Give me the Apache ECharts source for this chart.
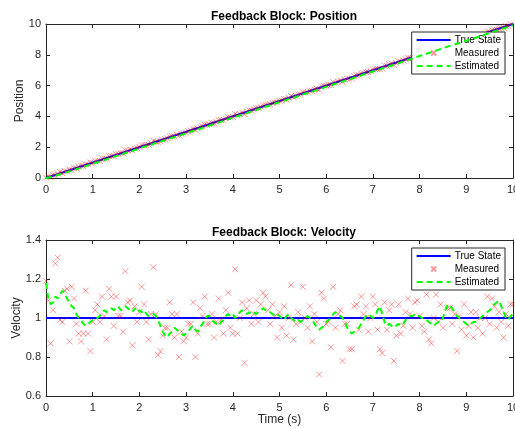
<!DOCTYPE html>
<html>
<head>
<meta charset="utf-8">
<script src="https://cdn.jsdelivr.net/npm/echarts@6/dist/echarts.min.js"></script>
<style>
  html, body { margin: 0; padding: 0; background: #ffffff; }
  #chart { width: 515px; height: 428px; }
</style>
</head>
<body>
<div id="chart"></div>
<script>
// Sample times (s), step 0.05
const time = [
  0, 0.05, 0.1, 0.15, 0.2, 0.25, 0.3, 0.35, 0.4, 0.45,
  0.5, 0.55, 0.6, 0.65, 0.7, 0.75, 0.8, 0.85, 0.9, 0.95,
  1, 1.05, 1.1, 1.15, 1.2, 1.25, 1.3, 1.35, 1.4, 1.45,
  1.5, 1.55, 1.6, 1.65, 1.7, 1.75, 1.8, 1.85, 1.9, 1.95,
  2, 2.05, 2.1, 2.15, 2.2, 2.25, 2.3, 2.35, 2.4, 2.45,
  2.5, 2.55, 2.6, 2.65, 2.7, 2.75, 2.8, 2.85, 2.9, 2.95,
  3, 3.05, 3.1, 3.15, 3.2, 3.25, 3.3, 3.35, 3.4, 3.45,
  3.5, 3.55, 3.6, 3.65, 3.7, 3.75, 3.8, 3.85, 3.9, 3.95,
  4, 4.05, 4.1, 4.15, 4.2, 4.25, 4.3, 4.35, 4.4, 4.45,
  4.5, 4.55, 4.6, 4.65, 4.7, 4.75, 4.8, 4.85, 4.9, 4.95,
  5, 5.05, 5.1, 5.15, 5.2, 5.25, 5.3, 5.35, 5.4, 5.45,
  5.5, 5.55, 5.6, 5.65, 5.7, 5.75, 5.8, 5.85, 5.9, 5.95,
  6, 6.05, 6.1, 6.15, 6.2, 6.25, 6.3, 6.35, 6.4, 6.45,
  6.5, 6.55, 6.6, 6.65, 6.7, 6.75, 6.8, 6.85, 6.9, 6.95,
  7, 7.05, 7.1, 7.15, 7.2, 7.25, 7.3, 7.35, 7.4, 7.45,
  7.5, 7.55, 7.6, 7.65, 7.7, 7.75, 7.8, 7.85, 7.9, 7.95,
  8, 8.05, 8.1, 8.15, 8.2, 8.25, 8.3, 8.35, 8.4, 8.45,
  8.5, 8.55, 8.6, 8.65, 8.7, 8.75, 8.8, 8.85, 8.9, 8.95,
  9, 9.05, 9.1, 9.15, 9.2, 9.25, 9.3, 9.35, 9.4, 9.45,
  9.5, 9.55, 9.6, 9.65, 9.7, 9.75, 9.8, 9.85, 9.9, 9.95,
  10
];

// True trajectory endpoints: constant velocity of 1
const trueTime = [0, 10];
const truePosition = [0, 10];
const trueVelocity = [1, 1];

// Noisy position measurements
const measuredPosition = [
  0.03, 0.11, 0.06, 0.22, 0.17, 0.29, 0.39, 0.31, 0.45, 0.43,
  0.55, 0.52, 0.66, 0.63, 0.74, 0.80, 0.76, 0.90, 0.88, 1.01,
  0.97, 1.09, 1.12, 1.10, 1.27, 1.26, 1.24, 1.41, 1.43, 1.43,
  1.55, 1.56, 1.62, 1.61, 1.80, 1.78, 1.84, 1.79, 1.92, 1.94,
  2.02, 2.12, 2.13, 2.14, 2.15, 2.26, 2.41, 2.36, 2.32, 2.38,
  2.46, 2.52, 2.58, 2.69, 2.71, 2.70, 2.81, 2.76, 2.86, 2.89,
  2.95, 3.03, 3.09, 3.19, 3.12, 3.22, 3.33, 3.36, 3.46, 3.44,
  3.49, 3.57, 3.55, 3.64, 3.75, 3.75, 3.76, 3.87, 3.96, 3.93,
  3.96, 4.16, 4.07, 4.15, 4.24, 4.15, 4.33, 4.39, 4.39, 4.46,
  4.54, 4.54, 4.63, 4.71, 4.75, 4.77, 4.79, 4.88, 4.90, 4.90,
  5.01, 5.03, 5.13, 5.11, 5.20, 5.33, 5.25, 5.34, 5.42, 5.44,
  5.57, 5.55, 5.58, 5.68, 5.64, 5.76, 5.79, 5.72, 5.96, 6.00,
  5.99, 6.04, 6.03, 6.22, 6.18, 6.26, 6.32, 6.25, 6.39, 6.43,
  6.42, 6.47, 6.63, 6.68, 6.67, 6.80, 6.81, 6.88, 6.87, 6.95,
  7.05, 7.08, 7.07, 7.07, 7.11, 7.29, 7.27, 7.37, 7.43, 7.35,
  7.45, 7.58, 7.56, 7.63, 7.71, 7.80, 7.81, 7.82, 7.94, 7.99,
  8.00, 8.03, 8.06, 8.21, 8.15, 8.18, 8.30, 8.41, 8.39, 8.48,
  8.47, 8.63, 8.62, 8.67, 8.69, 8.76, 8.72, 8.85, 8.87, 8.98,
  8.96, 9.03, 9.11, 9.10, 9.22, 9.22, 9.30, 9.31, 9.40, 9.50,
  9.48, 9.60, 9.63, 9.62, 9.71, 9.74, 9.75, 9.86, 9.88, 9.99,
  10.03
];

// Filter output: position estimate
const estimatedPosition = [
  0.00, 0.02, 0.06, 0.10, 0.14, 0.19, 0.24, 0.28, 0.33, 0.38,
  0.43, 0.48, 0.53, 0.57, 0.62, 0.67, 0.72, 0.77, 0.82, 0.87,
  0.92, 0.97, 1.02, 1.07, 1.12, 1.17, 1.21, 1.27, 1.32, 1.37,
  1.42, 1.47, 1.52, 1.56, 1.62, 1.67, 1.72, 1.76, 1.81, 1.86,
  1.91, 1.97, 2.02, 2.07, 2.11, 2.16, 2.22, 2.27, 2.31, 2.36,
  2.41, 2.45, 2.50, 2.56, 2.61, 2.65, 2.71, 2.75, 2.80, 2.85,
  2.90, 2.95, 3.00, 3.05, 3.10, 3.14, 3.20, 3.25, 3.31, 3.35,
  3.40, 3.45, 3.50, 3.55, 3.61, 3.66, 3.70, 3.76, 3.81, 3.86,
  3.91, 3.97, 4.01, 4.06, 4.12, 4.16, 4.21, 4.27, 4.32, 4.37,
  4.42, 4.47, 4.52, 4.57, 4.63, 4.68, 4.72, 4.77, 4.82, 4.87,
  4.92, 4.97, 5.02, 5.07, 5.12, 5.17, 5.21, 5.26, 5.32, 5.37,
  5.42, 5.47, 5.52, 5.57, 5.61, 5.66, 5.72, 5.76, 5.81, 5.87,
  5.92, 5.96, 6.01, 6.07, 6.12, 6.17, 6.22, 6.27, 6.31, 6.36,
  6.41, 6.45, 6.51, 6.56, 6.61, 6.66, 6.72, 6.77, 6.82, 6.87,
  6.92, 6.97, 7.02, 7.06, 7.11, 7.17, 7.21, 7.26, 7.31, 7.36,
  7.41, 7.46, 7.51, 7.56, 7.61, 7.66, 7.71, 7.76, 7.82, 7.87,
  7.92, 7.97, 8.01, 8.07, 8.12, 8.16, 8.21, 8.27, 8.32, 8.37,
  8.42, 8.48, 8.53, 8.58, 8.62, 8.67, 8.72, 8.77, 8.82, 8.87,
  8.92, 8.96, 9.01, 9.06, 9.11, 9.16, 9.21, 9.26, 9.31, 9.37,
  9.42, 9.47, 9.52, 9.57, 9.62, 9.67, 9.72, 9.76, 9.81, 9.87,
  9.92
];

// Noisy velocity measurements
const measuredVelocity = [
  1.19, 1.09, 0.87, 1.04, 1.28, 1.31, 0.99, 0.98, 1.14, 1.15,
  0.88, 1.16, 1.10, 0.97, 0.92, 0.88, 0.92, 1.14, 0.92, 0.83,
  0.98, 1.04, 1.07, 0.98, 1.11, 1.01, 0.89, 1.15, 1.11, 0.96,
  1.11, 1.01, 1.01, 0.93, 1.24, 1.08, 1.09, 0.86, 1.06, 0.98,
  1.03, 1.16, 1.07, 0.98, 0.89, 1.02, 1.26, 1.02, 0.81, 0.83,
  0.91, 0.95, 0.95, 1.08, 1.02, 0.90, 1.02, 0.80, 0.93, 0.88,
  0.90, 0.97, 0.97, 1.08, 0.80, 0.92, 1.05, 1.01, 1.11, 0.97,
  0.97, 1.02, 0.90, 0.98, 1.10, 0.99, 0.92, 1.04, 1.13, 0.95,
  0.92, 1.25, 0.92, 1.00, 1.08, 0.77, 1.05, 1.09, 0.97, 1.02,
  1.09, 0.98, 1.07, 1.13, 1.11, 1.04, 0.97, 1.07, 1.01, 0.90,
  1.03, 0.95, 1.06, 0.91, 1.00, 1.17, 0.89, 0.97, 1.03, 0.98,
  1.16, 1.00, 0.95, 1.06, 0.88, 1.02, 0.98, 0.71, 1.13, 1.10,
  0.97, 0.98, 0.85, 1.16, 0.95, 1.02, 1.04, 0.78, 0.97, 0.97,
  0.84, 0.84, 1.06, 1.07, 0.94, 1.11, 1.02, 1.06, 0.93, 1.00,
  1.11, 1.07, 0.94, 0.84, 0.82, 1.08, 0.94, 1.04, 1.07, 0.78,
  0.91, 1.07, 0.92, 0.96, 1.03, 1.10, 1.02, 0.95, 1.08, 1.09,
  1.01, 0.96, 0.93, 1.12, 0.89, 0.87, 1.00, 1.12, 0.98, 1.07,
  0.95, 1.17, 1.05, 1.05, 0.97, 1.02, 0.83, 1.01, 0.94, 1.07,
  0.91, 0.96, 1.03, 0.90, 1.03, 0.95, 1.00, 0.92, 1.00, 1.11,
  0.97, 1.10, 1.06, 0.95, 1.03, 0.98, 0.90, 1.02, 0.96, 1.07,
  1.07
];

// Filter output: velocity estimate
const estimatedVelocity = [
  1.18, 1.10, 1.07, 1.08, 1.11, 1.10, 1.12, 1.14, 1.13, 1.10,
  1.08, 1.06, 1.05, 1.02, 1.00, 0.99, 0.97, 0.96, 0.97, 0.98,
  0.99, 0.99, 1.00, 1.01, 1.03, 1.04, 1.03, 1.04, 1.05, 1.04,
  1.05, 1.06, 1.04, 1.05, 1.06, 1.05, 1.04, 1.03, 1.05, 1.03,
  1.04, 1.03, 1.04, 1.02, 1.01, 1.02, 1.02, 1.01, 0.99, 0.96,
  0.93, 0.91, 0.90, 0.92, 0.93, 0.95, 0.94, 0.93, 0.92, 0.91,
  0.92, 0.93, 0.95, 0.96, 0.94, 0.93, 0.95, 0.97, 0.99, 1.01,
  1.01, 0.99, 0.98, 0.97, 0.96, 0.98, 0.99, 1.01, 1.02, 1.01,
  1.02, 1.00, 1.01, 1.03, 1.04, 1.03, 1.02, 1.03, 1.02, 1.03,
  1.02, 1.03, 1.04, 1.05, 1.04, 1.04, 1.03, 1.02, 1.01, 1.02,
  1.01, 1.00, 0.99, 1.01, 1.02, 1.00, 0.99, 0.98, 0.99, 0.98,
  0.99, 1.00, 1.01, 1.00, 0.99, 0.97, 0.95, 0.94, 0.95, 0.96,
  0.98, 0.99, 1.00, 1.02, 1.03, 1.02, 1.01, 1.00, 0.98, 0.95,
  0.93, 0.92, 0.93, 0.94, 0.95, 0.97, 0.99, 1.01, 1.02, 1.01,
  1.00, 1.01, 1.04, 1.06, 1.02, 0.98, 0.96, 0.97, 0.96, 0.95,
  0.96, 0.97, 0.96, 0.97, 0.99, 1.00, 1.01, 1.01, 1.02, 1.01,
  1.01, 1.00, 1.00, 0.99, 0.98, 0.97, 0.96, 0.97, 0.98, 0.98,
  1.00, 1.04, 1.07, 1.06, 1.05, 1.03, 1.01, 1.00, 0.99, 0.98,
  0.97, 0.96, 0.97, 0.98, 0.98, 0.99, 1.00, 1.01, 1.02, 1.03,
  1.04, 1.05, 1.07, 1.08, 1.09, 1.06, 1.03, 1.00, 0.99, 1.01,
  1.02
];

// Axis ticks
const timeTicks = { min: 0, max: 10, step: 1 };
const positionTicks = { min: 0, max: 10, step: 2 };
const velocityTicks = { min: 0.6, max: 1.4, step: 0.2 };

const legendNames = ['True State', 'Measured', 'Estimated'];

const pairs = (xs, ys) => xs.map((x, i) => [x, ys[i]]);

const FONT = 'Liberation Sans, Arial, Helvetica, sans-serif';
const AXIS_COLOR = '#262626';
const BLUE = '#0000ff';
const GREEN = '#00ff00';
const RED = 'rgba(255, 0, 0, 0.5)';
const CROSS = 'path://M0 0L10 10M10 0L0 10';
// same cross with empty margin so the legend draws it small
const CROSS_LEGEND = 'path://M-5 -5M15 15M0 0L10 10M10 0L0 10';

function boxAxis(kind, gridIndex, ticks, position, labelled, extra) {
  const axis = {
    type: 'value',
    gridIndex: gridIndex,
    position: position,
    min: ticks.min,
    max: ticks.max,
    interval: ticks.step,
    axisLine: { show: true, onZero: false, lineStyle: { color: AXIS_COLOR, width: 1 } },
    axisTick: { show: true, inside: true, length: 4, lineStyle: { color: AXIS_COLOR } },
    splitLine: { show: false },
    axisLabel: {
      show: labelled,
      color: AXIS_COLOR,
      fontFamily: FONT,
      fontSize: 11,
      margin: kind === 'x' ? 6 : 5,
      showMinLabel: true,
      showMaxLabel: true
    }
  };
  return Object.assign(axis, extra || {});
}

const axisNameStyle = { color: AXIS_COLOR, fontFamily: FONT, fontSize: 12 };

const xAxes = [
  boxAxis('x', 0, timeTicks, 'bottom', true),
  boxAxis('x', 0, timeTicks, 'top', false),
  boxAxis('x', 1, timeTicks, 'bottom', true, {
    name: 'Time (s)', nameLocation: 'middle', nameGap: 18, nameMoveOverlap: false,
    nameTextStyle: axisNameStyle
  }),
  boxAxis('x', 1, timeTicks, 'top', false)
];

const yAxes = [
  boxAxis('y', 0, positionTicks, 'left', true, {
    name: 'Position', nameLocation: 'middle', nameGap: 20, nameMoveOverlap: false,
    nameTextStyle: axisNameStyle
  }),
  boxAxis('y', 0, positionTicks, 'right', false),
  boxAxis('y', 1, velocityTicks, 'left', true, {
    name: 'Velocity', nameLocation: 'middle', nameGap: 23, nameMoveOverlap: false,
    nameTextStyle: axisNameStyle,
    axisLabel: {
      show: true, color: AXIS_COLOR, fontFamily: FONT, fontSize: 11, margin: 5,
      formatter: v => (Math.abs(v - 1) < 1e-9 ? '1' : v.toFixed(1))
    }
  }),
  boxAxis('y', 1, velocityTicks, 'right', false)
];

function panelSeries(axisIndex, trueValues, measured, estimated) {
  return [
    {
      name: 'True State', type: 'line',
      xAxisIndex: axisIndex, yAxisIndex: axisIndex,
      data: pairs(trueTime, trueValues),
      symbol: 'none', silent: true, animation: false,
      lineStyle: { color: BLUE, width: 2 },
      itemStyle: { color: BLUE },
      z: 2
    },
    {
      name: 'Measured', type: 'scatter',
      xAxisIndex: axisIndex, yAxisIndex: axisIndex,
      data: pairs(time, measured),
      symbol: CROSS, symbolSize: 6, silent: true, animation: false,
      itemStyle: { color: 'rgba(0,0,0,0)', borderColor: RED, borderWidth: 1 },
      z: 3
    },
    {
      name: 'Estimated', type: 'line',
      xAxisIndex: axisIndex, yAxisIndex: axisIndex,
      data: pairs(time, estimated),
      symbol: 'none', silent: true, animation: false,
      lineStyle: { color: GREEN, width: 2, type: [6, 4] },
      itemStyle: { color: GREEN },
      z: 4
    }
  ];
}

function legendFor(top) {
  return {
    data: [
      { name: legendNames[0], itemStyle: { opacity: 0 } },
      { name: legendNames[1], icon: CROSS_LEGEND },
      { name: legendNames[2], itemStyle: { opacity: 0 } }
    ],
    orient: 'vertical',
    right: 10,
    top: top,
    itemWidth: 34,
    itemHeight: 10,
    itemGap: 2,
    padding: [3, 4, 3, 4],
    backgroundColor: '#ffffff',
    borderColor: AXIS_COLOR,
    borderWidth: 1,
    borderRadius: 0,
    selectedMode: false,
    textStyle: { color: '#000000', fontFamily: FONT, fontSize: 10, padding: [0, 0, 0, -1] }
  };
}

const chart = echarts.init(document.getElementById('chart'), null, { renderer: 'canvas' });

chart.setOption({
  animation: false,
  backgroundColor: '#ffffff',
  title: [
    {
      text: 'Feedback Block: Position', left: 279, top: 6, textAlign: 'center',
      textStyle: { fontFamily: FONT, fontSize: 12, fontWeight: 'bold', color: '#000000' }
    },
    {
      text: 'Feedback Block: Velocity', left: 279, top: 222, textAlign: 'center',
      textStyle: { fontFamily: FONT, fontSize: 12, fontWeight: 'bold', color: '#000000' }
    }
  ],
  grid: [
    { left: 46, right: 2, top: 24, height: 154, containLabel: false, outerBoundsMode: 'none' },
    { left: 46, right: 2, top: 240, height: 156, containLabel: false, outerBoundsMode: 'none' }
  ],
  legend: [legendFor(32), legendFor(248)],
  xAxis: xAxes,
  yAxis: yAxes,
  series: [].concat(
    panelSeries(0, truePosition, measuredPosition, estimatedPosition),
    panelSeries(2, trueVelocity, measuredVelocity, estimatedVelocity)
  )
});
</script>
</body>
</html>
